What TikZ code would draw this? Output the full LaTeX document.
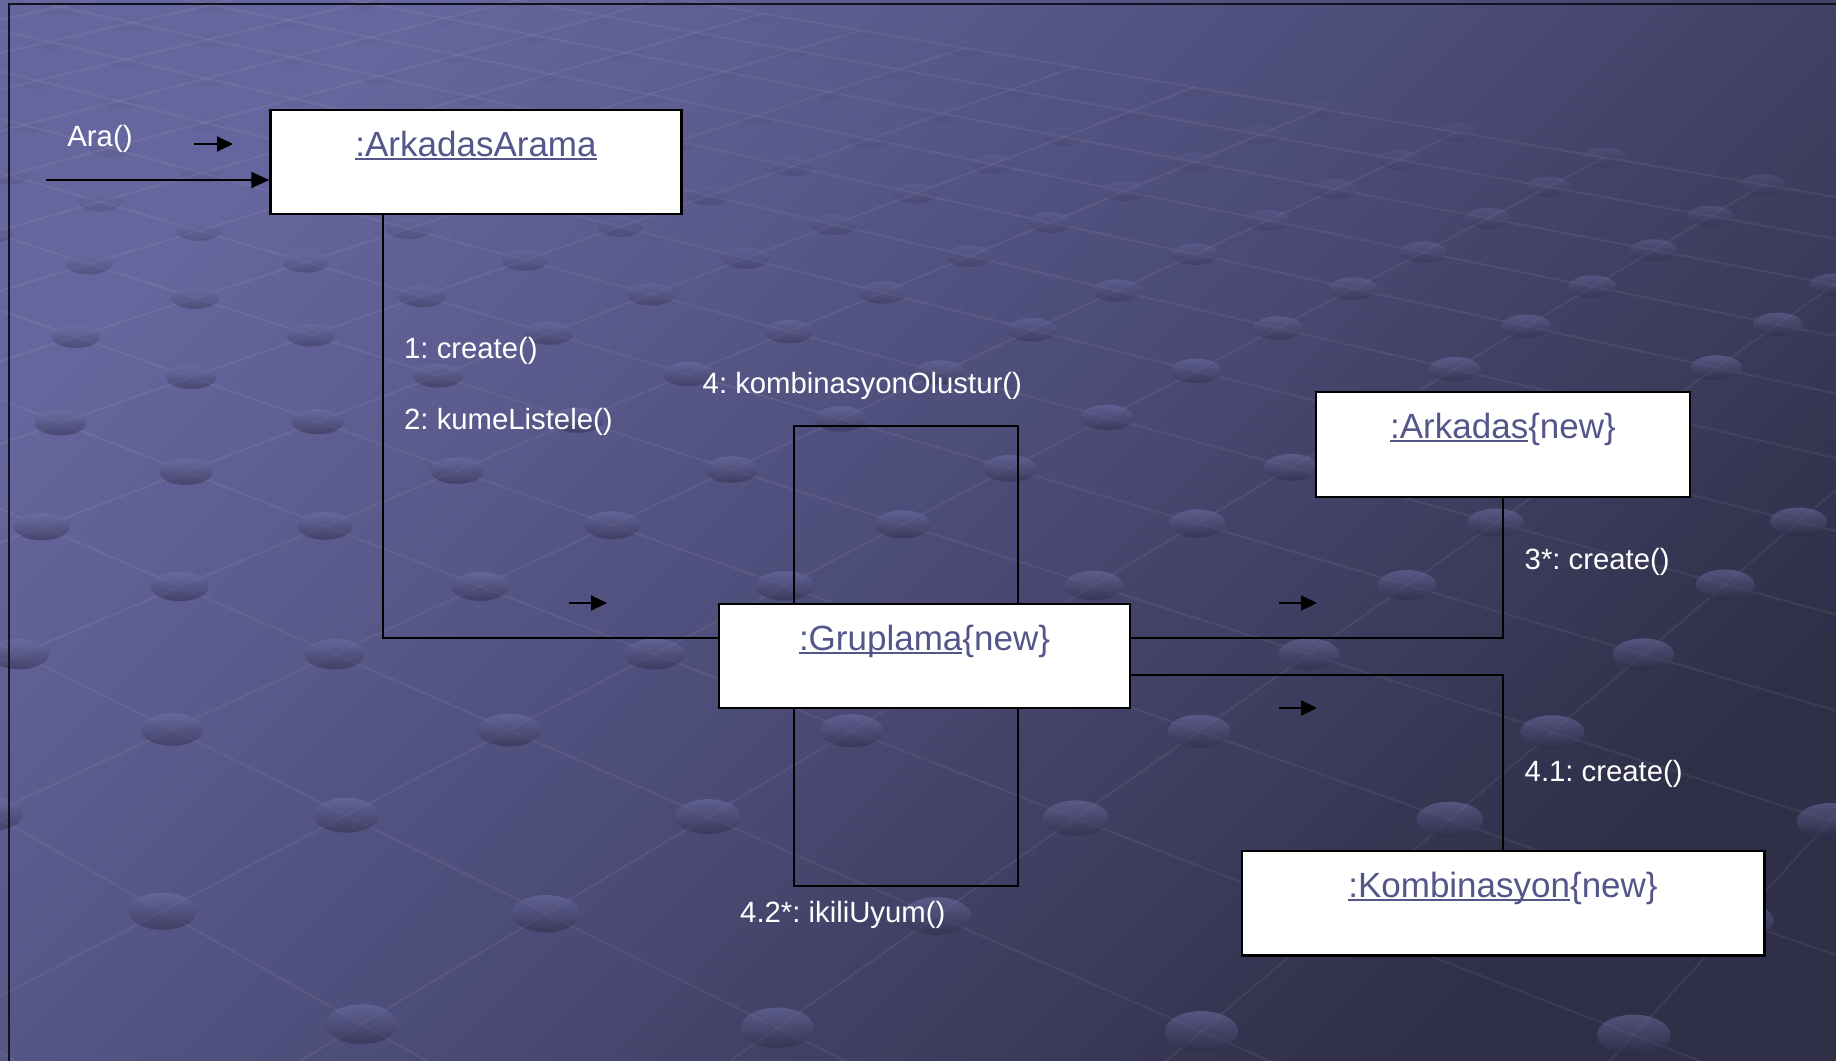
\documentclass[tikz,border=0pt]{standalone}
\usepackage{fontspec}
\setmainfont{Liberation Sans}
\usetikzlibrary{arrows.meta}
\definecolor{bgA}{HTML}{66669E}
\definecolor{bgM}{HTML}{4C4C78}
\definecolor{bgB}{HTML}{2F2F48}
\definecolor{lbl}{HTML}{54568A}
\definecolor{frm}{HTML}{111122}
\definecolor{dotT}{HTML}{7474AE}
\definecolor{dotB}{HTML}{2A2A44}
\newcommand\objul[1]{\setbox0\hbox{#1}\rlap{\rule[-0.11em]{\wd0}{0.065em}}\box0}
\newcommand\lblfont{\fontsize{29.3}{34}\selectfont}
\newcommand\objfont{\fontsize{35}{40}\selectfont}
\frenchspacing
\begin{document}
\begin{tikzpicture}[x=1pt,y=-1pt,
 obj/.style={draw=black, line width=2.5pt, fill=white, inner sep=0pt},
 objlabel/.style={anchor=base, inner sep=0pt, text=lbl, font=\objfont},
 msg/.style={anchor=west, inner sep=0pt, text=white, font=\lblfont},
 conn/.style={draw=black, line width=2pt},
 dirarrow/.style={draw=black, line width=2pt, -{Triangle[length=16pt,width=15pt]}},
 gridline/.style={draw=white, draw opacity=0.06, line width=2pt},
 griddot/.style={top color=dotT, bottom color=dotB},
]
\useasboundingbox (0,0) rectangle (1836,1060);
\shade[top color=bgA, bottom color=bgB, middle color=bgM, shading angle=45] (0,0) rectangle (1836,1060);

% decorative perspective lattice of the background
\begin{scope}
\clip (0,0) rectangle (1836,1060);
\foreach \v in {-9,...,7}{
  \pgfmathsetmacro\da{1+0.0415*8-0.0365*\v}
  \pgfmathsetmacro\xa{(-98.15*8-117.1*\v+89)/\da}
  \pgfmathsetmacro\ya{(-21.62*8+24.86*\v+264)/\da}
  \pgfmathsetmacro\db{1-0.0415*13-0.0365*\v}
  \pgfmathsetmacro\xb{(98.15*13-117.1*\v+89)/\db}
  \pgfmathsetmacro\yb{(21.62*13+24.86*\v+264)/\db}
  \draw[gridline] (\xa,\ya) -- (\xb,\yb);
}
\foreach \u in {-7,...,12}{
  \pgfmathsetmacro\da{1-0.0415*\u+0.0365*9}
  \pgfmathsetmacro\xa{(98.15*\u+117.1*9+89)/\da}
  \pgfmathsetmacro\ya{(21.62*\u-24.86*9+264)/\da}
  \pgfmathsetmacro\db{1-0.0415*\u-0.0365*8}
  \pgfmathsetmacro\xb{(98.15*\u-117.1*8+89)/\db}
  \pgfmathsetmacro\yb{(21.62*\u+24.86*8+264)/\db}
  \draw[gridline] (\xa,\ya) -- (\xb,\yb);
}
\foreach \u in {-7,...,11}{
  \foreach \v in {-9,...,7}{
    \pgfmathsetmacro\dd{1-0.0415*\u-0.0365*\v}
    \pgfmathsetmacro\px{(98.15*\u-117.1*\v+89)/\dd}
    \pgfmathsetmacro\py{(21.62*\u+24.86*\v+264)/\dd}
    \pgfmathtruncatemacro\inside{and(and(\px>-100,\px<1940),and(\py>-60,\py<1120))}
    \ifnum\inside=1
      \pgfmathsetmacro\rw{23*\dd^(-0.7)}
      \pgfmathsetmacro\rh{10.5/\dd}
      \pgfmathsetmacro\op{max(0.06,min(0.5,0.5-(\dd-0.85)*1.3))}
      \shade[griddot, opacity=\op] (\px,\py) ellipse [x radius=\rw, y radius=\rh];
    \fi
  }
}
\end{scope}

\draw[frm, line width=2.5pt] (9,1064) -- (9,4) -- (1840,4);

% objects
\node[obj, minimum width=411pt, minimum height=104pt] (arkA) at (476,162) {};
\node[obj, minimum width=411pt, minimum height=104pt] (grup) at (924.5,656) {};
\node[obj, minimum width=374pt, minimum height=105pt] (ark) at (1503,444.5) {};
\node[obj, minimum width=522.5pt, minimum height=104.5pt] (komb) at (1503.25,903.25) {};

\node[objlabel] (arkAl) at (476,156) {\objul{:ArkadasArama}};
\node[objlabel] (grupl) at (924.5,650) {\objul{:Gruplama}\{new\}};
\node[objlabel] (arkl) at (1503,438) {\objul{:Arkadas}\{new\}};
\node[objlabel] (kombl) at (1503,897) {\objul{:Kombinasyon}\{new\}};

% connectors
\coordinate (araIn) at (46,180);
\draw[conn, -{Triangle[length=18pt,width=16pt]}] (araIn) -- ([yshift=-18pt]arkA.west);
\draw[conn] ([xshift=-93pt]arkA.south) |- ([yshift=18pt]grup.west);
\draw[conn] ([yshift=18pt]grup.east) -| (ark.south);
\draw[conn] ([yshift=-18.5pt]grup.east) -| (komb.north);
\draw[conn] ([xshift=-130.5pt]grup.north) -- ++(0,-177) -| ([xshift=93pt]grup.north);
\draw[conn] ([xshift=-130.5pt]grup.south) -- ++(0,177) -| ([xshift=93pt]grup.south);

% direction arrows
\coordinate (d1a) at (194,144); \coordinate (d1b) at (233,144);
\coordinate (d2a) at (569,603); \coordinate (d2b) at (607,603);
\coordinate (d3a) at (1279,603); \coordinate (d3b) at (1317,603);
\coordinate (d4a) at (1279,708); \coordinate (d4b) at (1317,708);
\draw[dirarrow] (d1a) -- (d1b);
\draw[dirarrow] (d2a) -- (d2b);
\draw[dirarrow] (d3a) -- (d3b);
\draw[dirarrow] (d4a) -- (d4b);

% messages
\node[text=white, font=\lblfont, inner sep=0pt] (ara) at (100,139) {Ara()};
\node[msg] (m1) at (404,351) {1: create()};
\node[msg] (m2) at (404,421.5) {2: kumeListele()};
\node[msg] (m4) at (702.5,386) {4: kombinasyonOlustur()};
\node[msg] (m42) at (740,914.5) {4.2*: ikiliUyum()};
\node[msg] (m3) at (1524.5,562) {3*: create()};
\node[msg] (m41) at (1524.5,774) {4.1: create()};
\end{tikzpicture}
\end{document}
